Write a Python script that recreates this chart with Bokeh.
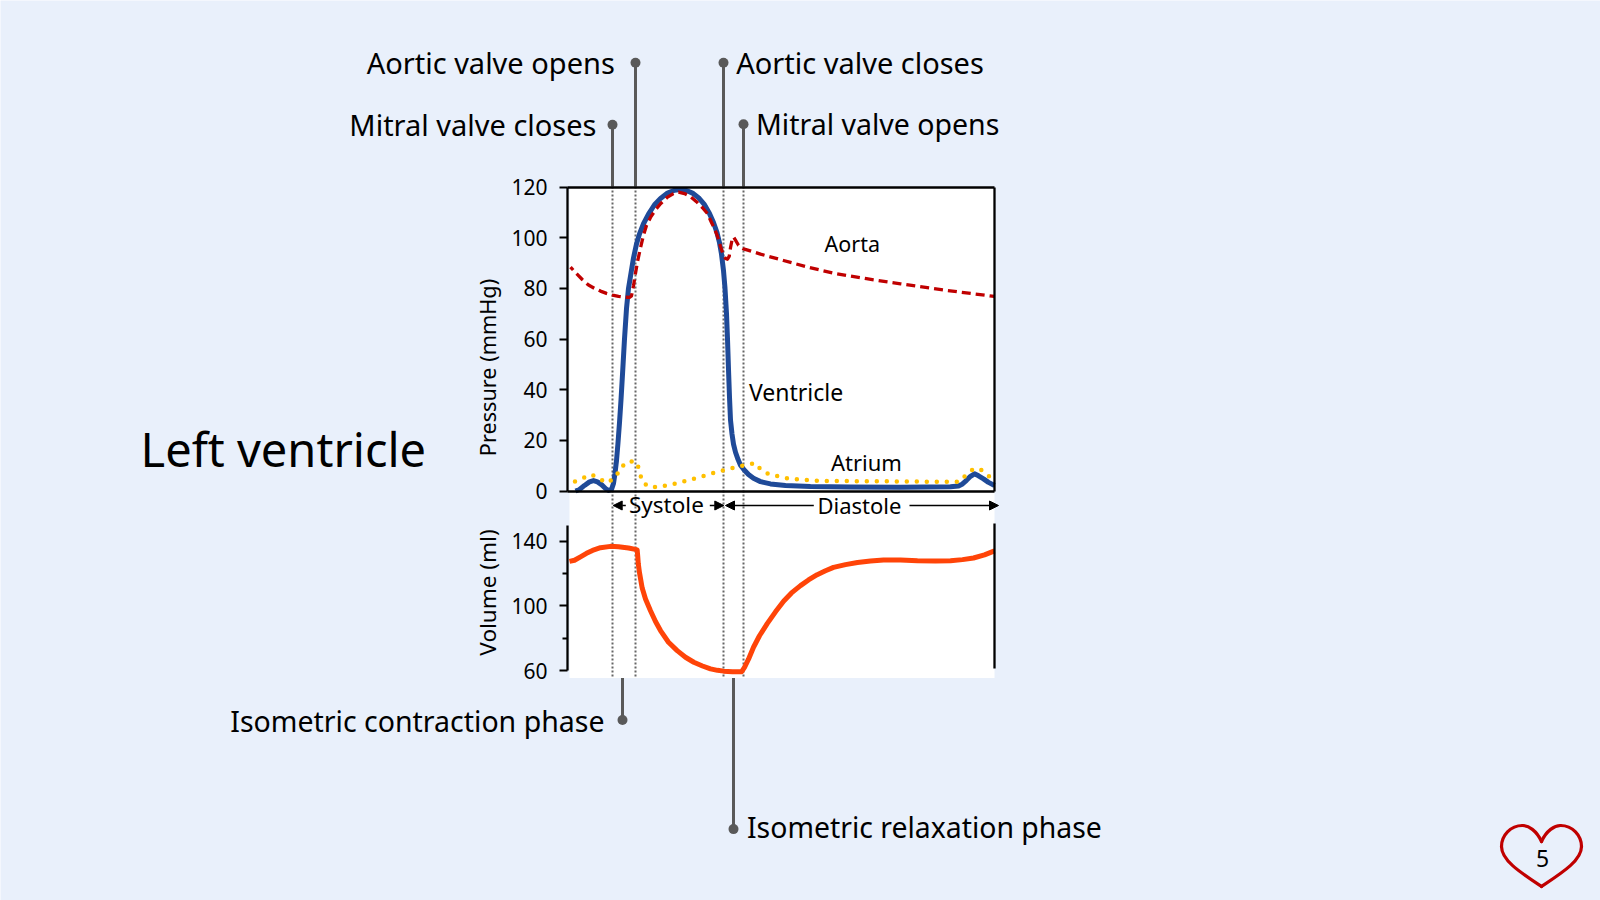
from math import pi
from bokeh.plotting import figure
from bokeh.models import Range1d, LinearAxis, FixedTicker, Arrow, NormalHead
from bokeh.core.properties import value
from bokeh.embed import file_html
from bokeh.resources import INLINE

# ---- data (time in ms through the cardiac cycle)
ventricle_t = [12, 20, 30, 40, 48, 56, 64, 72, 78, 84, 88, 91, 94, 97, 100, 103, 106, 110, 114, 118, 123, 128, 134, 140,
               148, 158, 170, 182, 196, 210, 222, 234, 246, 258, 270, 280, 288, 295, 300, 304, 308, 311, 314, 316, 318,
               320, 322, 325, 328, 332, 337, 342, 349, 358, 368, 382, 402, 432, 482, 562, 662, 762, 778, 786, 794, 802,
               810, 818, 828, 838, 850]
ventricle_p = [0, 0.6, 2.2, 3.6, 4.1, 3.6, 2.5, 1, 0.2, 0.6, 3, 7, 12, 19, 27, 36, 46, 60, 72, 80, 86, 92, 97.5, 101.5,
               105.5, 109.3, 113, 115.5, 117.6, 118.7, 119, 118.6, 117.6, 115.8, 113, 109.5, 106, 102, 98, 93.5, 87, 80, 70, 60, 48,
               37, 28, 22.5, 18.5, 15.3, 12.5, 10.2, 8.4, 6.5, 5, 3.7, 2.8, 2.2, 1.8, 1.6, 1.5, 1.7, 2, 2.8, 4.2, 5.8,
               6.8, 6, 4.8, 3.4, 2.2]

aorta_t = [2, 14, 26, 38, 50, 62, 74, 86, 98, 110, 120, 124, 128, 132, 136, 142, 148, 154, 162, 172, 182, 196, 208, 218,
           230, 242, 254, 266, 276, 284, 290, 296, 302, 308, 312, 316, 319.4, 322, 325, 328, 332, 338, 348, 382, 428, 478,
           528, 594, 662, 754, 850]
aorta_p = [88.4, 85.8, 83.4, 81.3, 80, 78.9, 78, 77.3, 76.8, 76.5, 76.4, 77, 81, 86, 90.5, 96, 101, 104.8, 108, 111, 113.4, 116, 117.4, 118,
           117.4, 116.2, 114.2, 111.8, 109.5, 106, 103.5, 100.5, 96.5, 93, 91.8, 91.5, 92.6, 96, 99, 100.3, 99, 97, 95.6, 93.5, 91, 88.3,
           86, 83.8, 81.8, 79.2, 76.8]

atrium_t = [11, 44, 75, 92, 102, 115, 133, 141, 144, 157, 177, 217, 255, 293, 332, 372, 384, 401, 440, 500, 780, 794, 809, 827, 848]
atrium_p = [3.75, 6.5, 3.2, 5.4, 9, 11.6, 11.6, 7.8, 4.1, 1.8, 1.5, 3.1, 5.2, 7.4, 9.4, 11.1, 8.1, 6.5, 4.8, 4, 3.6, 6.5, 8.9, 8.1, 4.1]

volume_t = [0, 10, 22, 34, 46, 62, 82, 98, 118, 134, 135.4, 136.5, 137.6, 140, 145.4, 152, 162, 172, 182, 198, 215.4, 232, 248.6, 266, 282,
            296, 308, 326, 344, 350, 358, 368, 380, 395.4, 412, 428.6, 444, 462, 478, 495.4, 512, 528, 552, 576, 602, 628, 662,
            696, 732, 762, 786, 808, 830, 850]
volume_v = [127.5, 128.2, 130.3, 132.5, 134.3, 136, 136.8, 136.6, 135.8, 134.8, 134.5, 130.5, 126, 120.5, 111, 104.3, 97, 90.3, 84.7, 77.5, 72.3, 68.2, 65.1, 62.8, 61,
            60.1, 59.6, 59.3, 59.2, 62, 67, 74.4, 81.5, 89, 96.3, 103, 108, 112.5, 116, 119.3, 121.7, 123.8, 125.5, 126.8, 127.7, 128.3, 128.3,
            127.9, 127.8, 127.9, 128.6, 129.6, 131.5, 134]

valve_t = [86, 132, 308, 348]
phase_t = [106, 328]
pressure_ticks = [0, 20, 40, 60, 80, 100, 120]
volume_ticks = [60, 100, 140]
volume_minor = [80, 120]

BG = "#E9F0FB"; FONT = "Noto Sans"; GREY = "#595959"
BLUE = "#1F4A98"; RED = "#C00000"; GOLD = "#FFC000"; ORANGE = "#FF4408"

# ---- the single frame maps onto the page: 1 ms = 0.5 px
W, H = 1600, 900
page_x = Range1d(0, W); page_y = Range1d(H, 0)
ms = lambda px: (px - 569) * 2
p_scale = (490.5 - 186.5) / 120
v_scale = (670 - 540.7) / 80
pressure_range = Range1d((490.5 - H) / p_scale, 490.5 / p_scale)
volume_range = Range1d(60 + (670 - H) / v_scale, 60 + 670 / v_scale)
AX_L = ms(567)

p = figure(width=W, height=H, x_range=Range1d(ms(0), ms(W)), y_range=page_y,
           x_axis_type=None, y_axis_type=None, toolbar_location=None, output_backend="svg",
           min_border=0, background_fill_color=BG, border_fill_color=BG, outline_line_color=None)
p.extra_x_ranges["page"] = page_x
p.extra_y_ranges["pressure"] = pressure_range
p.extra_y_ranges["volume"] = volume_range

# white panel behind both charts
p.quad(left=[0], right=[850], top=[186], bottom=[677.5], fill_color="white", line_color=None)

# dotted valve lines and leader lines
p.segment(x0=valve_t, x1=valve_t, y0=[186] * 4, y1=[677] * 4, line_color="#666666", line_width=2, line_dash="2 2")
leader_top = [124.3, 62.3, 62.3, 123.7]
p.segment(x0=valve_t, x1=valve_t, y0=leader_top, y1=[186] * 4, line_color=GREY, line_width=3)
p.scatter(x=valve_t, y=leader_top, size=10, fill_color=GREY, line_color=None)
phase_end = [719.5, 828.6]
p.segment(x0=phase_t, x1=phase_t, y0=[677.5] * 2, y1=phase_end, line_color=GREY, line_width=3)
p.scatter(x=phase_t, y=phase_end, size=10, fill_color=GREY, line_color=None)

# curves
p.line(ventricle_t, ventricle_p, y_range_name="pressure", line_color=BLUE, line_width=5, line_join="round")
p.line(atrium_t, atrium_p, y_range_name="pressure", line_color=GOLD, line_width=4.5, line_dash="0 10", line_cap="round", line_join="round")
p.line(aorta_t, aorta_p, y_range_name="pressure", line_color=RED, line_width=3.3, line_dash="9 5", line_dash_offset=5, line_join="round")
p.line(volume_t, volume_v, y_range_name="volume", line_color=ORANGE, line_width=5, line_join="round")

# axes placed at fixed data locations
def style(ax):
    ax.axis_line_color = "black"; ax.axis_line_width = 2.3
    ax.major_tick_line_color = "black"; ax.major_tick_line_width = 2
    ax.minor_tick_line_color = "black"; ax.minor_tick_line_width = 2
    ax.major_tick_in = 0; ax.major_tick_out = 8
    ax.minor_tick_in = 0; ax.minor_tick_out = 5
    ax.major_label_text_font = FONT; ax.major_label_text_font_size = "21px"
    ax.major_label_text_color = "black"; ax.major_label_standoff = 12
    return ax

p.add_layout(style(LinearAxis(y_range_name="pressure", fixed_location=AX_L, bounds=(0, 120),
                              ticker=FixedTicker(ticks=pressure_ticks))), "left")
p.add_layout(style(LinearAxis(y_range_name="volume", fixed_location=AX_L, bounds=(60, 149.7),
                              ticker=FixedTicker(ticks=volume_ticks, minor_ticks=volume_minor))), "left")
p.add_layout(style(LinearAxis(y_range_name="pressure", fixed_location=850, bounds=(0, 120),
                              ticker=FixedTicker(ticks=[]))), "right")
p.add_layout(style(LinearAxis(y_range_name="volume", fixed_location=850, bounds=(61, 151),
                              ticker=FixedTicker(ticks=[]))), "right")
for loc, side in ((0, "below"), (120, "above")):
    p.add_layout(style(LinearAxis(y_range_name="pressure", fixed_location=loc, bounds=(AX_L, 850),
                                  ticker=FixedTicker(ticks=[]))), side)

# texts: (text, page x, page y, size, align, angle)
texts = [
    ("Left ventricle", 140, 448, 47, "left", 0),
    ("Aortic valve opens", 614.3, 61.5, 29, "right", 0),
    ("Mitral valve closes", 596, 124, 29, "right", 0),
    ("Aortic valve closes", 735.7, 61.5, 29, "left", 0),
    ("Mitral valve opens", 755.5, 123, 28.5, "left", 0),
    ("Isometric contraction phase", 604, 720, 28.5, "right", 0),
    ("Isometric relaxation phase", 746.5, 826, 28.4, "left", 0),
    ("Aorta", 824, 243, 21.5, "left", 0),
    ("Ventricle", 748.5, 391, 23, "left", 0),
    ("Atrium", 830.5, 461, 22, "left", 0),
    ("Systole", 628.5, 503.5, 22.5, "left", 0),
    ("Diastole", 817, 504, 22, "left", 0),
    ("5", 1542, 858, 23, "center", 0),
    ("Pressure (mmHg)", 487, 367, 21.7, "center", pi / 2),
    ("Volume (ml)", 487, 592, 22.5, "center", pi / 2),
]
for s, x, y, size, al, ang in texts:
    p.text(x=[x], y=[y], text=[s], x_range_name="page", text_font=value(FONT), text_font_size=f"{size}px",
           text_align=al, text_baseline="middle", text_color="black", angle=ang)

# phase arrows
for a, b in ((625.3, 612.7), (709.3, 723.3), (813.3, 725), (909, 998)):
    p.add_layout(Arrow(x_range_name="page", x_start=a, x_end=b, y_start=505, y_end=505, line_color="black",
                       line_width=1.5, end=NormalHead(size=9, fill_color="black", line_color="black", line_width=1)))

# heart badge
for sgn in (1, -1):
    m = lambda x: 1541 + sgn * (x - 1541)
    p.bezier(x0=[m(1541), m(1522), m(1501)], y0=[841, 825, 846], x1=[m(1522), m(1501), m(1541)], y1=[825, 846, 886],
             cx0=[m(1536), m(1510), m(1501)], cy0=[830, 825, 860], cx1=[m(1528), m(1501), m(1520)], cy1=[825, 835, 872],
             x_range_name="page", line_color=RED, line_width=3.2, line_cap="round")

open("out.html", "w").write(file_html(p, INLINE))
